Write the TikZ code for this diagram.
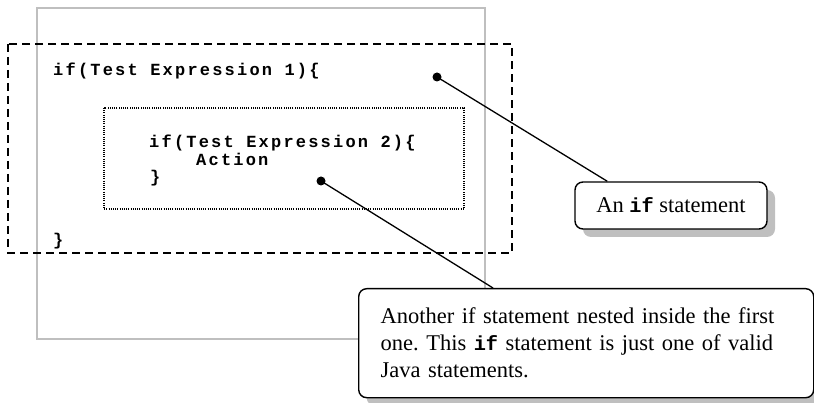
\documentclass[tikz,border=0pt]{standalone}
\usepackage{fontspec}
\setmainfont{Liberation Serif}
\newfontfamily\codefont[LetterSpace=13]{Liberation Mono}
\newfontfamily\keyfont[Scale=0.9]{Liberation Mono}
\usetikzlibrary{calc, shadows}
\frenchspacing

\newcommand{\keyword}[1]{{\keyfont\bfseries #1}}

\tikzset{
  code/.style={font=\codefont\bfseries\fontsize{17}{17}\selectfont, anchor=base west, inner sep=0pt},
  note/.style={draw, line width=1.4pt, rounded corners=8pt, fill=white,
    font=\fontsize{22.5}{27}\selectfont,
    drop shadow={shadow xshift=8pt, shadow yshift=-8pt, fill=black!25, opacity=1}},
  pin/.style={circle, fill, inner sep=0pt, minimum size=9pt},
  leader/.style={line width=1.3pt},
}

\begin{document}
\begin{tikzpicture}[x=1pt, y=-1pt]
    \useasboundingbox (0,0) rectangle (814,403);

    % frames
    \draw[black!25, line width=1.5pt] (37,8) rectangle (485,339);
    \draw[line width=1.5pt, dash pattern=on 8pt off 5pt] (8,44) rectangle (512,253);
    \draw[line width=1.1pt, dash pattern=on 1pt off 1.2pt] (104,108) rectangle (464,209);

    % code lines
    \node[code] (outerIf) at (53,76) {if(Test Expression 1)\{};
    \node[code] (outerClose) at (53,246) {\}};
    \node[code] (innerIf) at (149,148) {if(Test Expression 2)\{};
    \node[code] (innerAction) at (196,166) {Action};
    \node[code] (innerClose) at (150,183) {\}};

    \node[pin] (outerPin) at (437,77) {};
    \node[pin] (innerPin) at (321,181) {};

    % callouts
    \node[note, minimum width=192pt, minimum height=47pt] (outerNote) at (671,205.5)
        {An \keyword{if} statement};
    \node[note, anchor=north west, minimum height=109pt, inner xsep=22pt,
          text width=411pt, align=left] (innerNote) at (358,288)
        {Another if statement nested inside the first\\
         one. This \keyword{if} statement is just one of valid\\
         Java statements.};

    \draw[leader] (outerPin.center) -- ($(outerNote.north west)+(33,0)$);
    \draw[leader] (innerPin.center) -- ($(innerNote.north west)+(135,0)$);
\end{tikzpicture}
\end{document}
